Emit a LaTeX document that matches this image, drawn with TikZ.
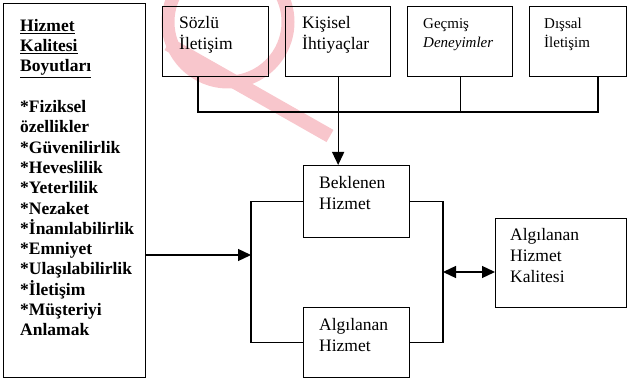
\documentclass[tikz,border=0pt]{standalone}
\usepackage{fontspec}
\setmainfont{Liberation Serif}
\usetikzlibrary{arrows.meta,calc}
\definecolor{wm}{RGB}{248,198,204}
\begin{document}
\begin{tikzpicture}[x=1pt,y=-1pt,
  box/.style={draw, line width=1.3pt, inner sep=0pt, anchor=north west},
  txt/.style={inner sep=0pt, anchor=north west, align=left},
  big/.style={txt, font=\fontsize{17.5}{21}\selectfont},
  mid/.style={txt, font=\fontsize{15}{19}\selectfont},
  lft/.style={txt, font=\fontsize{17.5}{20.3}\selectfont\bfseries},
  con/.style={line width=1.3pt},
  arr/.style={con, -{Triangle[length=13pt,width=12pt]}},
  darr/.style={con, {Triangle[length=13pt,width=12pt]}-{Triangle[length=13pt,width=12pt]}}
]
\useasboundingbox (0,0) rectangle (629,379);
% watermark
\draw[wm, line width=13pt] (228,22) circle (60);
\draw[wm, line width=14pt] (168,44) -- (330,136);
% boxes
\node[box, minimum width=142pt, minimum height=374pt] (left) at (3,3) {};
\node[box, minimum width=106pt, minimum height=70pt] (soz) at (162,6) {};
\node[box, minimum width=105pt, minimum height=70pt] (kis) at (285,6) {};
\node[box, minimum width=105pt, minimum height=70pt] (gec) at (407,6) {};
\node[box, minimum width=97pt, minimum height=70pt] (dis) at (529,6) {};
\node[box, minimum width=106pt, minimum height=72pt] (bek) at (303,165) {};
\node[box, minimum width=106pt, minimum height=70pt] (alg) at (303,307) {};
\node[box, minimum width=131pt, minimum height=89pt] (ahk) at (495,218) {};
% texts
\node[lft] (tleft) at (20,19) {\underline{Hizmet}\\\underline{Kalitesi}\\\underline{Boyutları}\\[20.3pt]
*Fiziksel\\özellikler\\*Güvenilirlik\\*Heveslilik\\*Yeterlilik\\*Nezaket\\*İnanılabilirlik\\*Emniyet\\*Ulaşılabilirlik\\*İletişim\\*Müşteriyi\\Anlamak};
\node[big] (tsoz) at (179,16) {Sözlü\\İletişim};
\node[big] (tkis) at (302,16) {Kişisel\\İhtiyaçlar};
\node[mid] (tgec) at (423,18) {Geçmiş\\\textit{Deneyimler}};
\node[mid] (tdis) at (544,18) {Dışsal\\İletişim};
\node[big] (tbek) at (319,176) {Beklenen\\Hizmet};
\node[big] (talg) at (319,318) {Algılanan\\Hizmet};
\node[big] (tahk) at (510,228) {Algılanan\\Hizmet\\Kalitesi};
% bus
\coordinate (bL) at (198,112);
\coordinate (bR) at (598,112);
\draw[con] (bL |- soz.south) -- (bL) -- (bR) -- (bR |- dis.south);
\draw[con] (gec.south) -- (gec.south |- bL);
\draw[con] (kis.south) -- (kis.south |- bL);
\draw[arr] (kis.south |- bL) -- (kis.south |- bek.north);
% left bracket
\coordinate (lb) at (251,255);
\draw[con] (bek.west) -- (bek.west -| lb) -- (alg.west -| lb) -- (alg.west);
\draw[arr] (lb -| left.east) -- (lb);
% right bracket
\coordinate (rb) at (443,272);
\draw[con] (bek.east) -- (bek.east -| rb) -- (alg.east -| rb) -- (alg.east);
\draw[darr] (rb) -- (rb -| ahk.west);
\end{tikzpicture}
\end{document}
